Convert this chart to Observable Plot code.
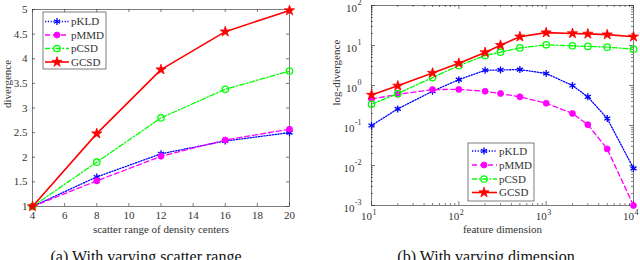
<!DOCTYPE html>
<html>
<head>
<meta charset="utf-8">
<script src="https://cdn.jsdelivr.net/npm/d3@7"></script>
<script src="https://cdn.jsdelivr.net/npm/@observablehq/plot@0.6"></script>
<style>
  body { margin: 0; background: #fff; }
  #wrap { position: relative; width: 640px; height: 260px; overflow: hidden; font-family: "Liberation Serif", serif; background: #fff; }
  .panel { position: absolute; top: 0; }
  .cap { position: absolute; top: 249px; font-family: "Liberation Serif", serif; font-size: 16px; line-height: 16px; white-space: nowrap; transform: translateX(-50%); color: #111; }
</style>
</head>
<body>
<div id="wrap">
  <div id="left" class="panel" style="left:0"></div>
  <div id="right" class="panel" style="left:320px"></div>
  <div class="cap" style="left:146px">(a) With varying scatter range</div>
  <div class="cap" style="left:486px">(b) With varying dimension</div>
</div>
<script>
// ---- data ----
const seriesNames = ["pKLD", "pMMD", "pCSD", "GCSD"];

const scatterRange = [4, 8, 12, 16, 20];
const scatterPKLD = [1, 1.6, 2.07, 2.33, 2.5];
const scatterPMMD = [1, 1.52, 2.02, 2.35, 2.57];
const scatterPCSD = [1, 1.9, 2.8, 3.38, 3.75];
const scatterGCSD = [1, 2.48, 3.78, 4.55, 4.98];

const featureDim = [10, 20, 50, 100, 200, 300, 500, 1000, 2000, 3000, 5000, 10000];
const dimPKLD = [0.1, 0.26, 0.72, 1.4, 2.4, 2.45, 2.5, 2.0, 1.0, 0.52, 0.15, 0.0085];
const dimPMMD = [0.46, 0.6, 0.79, 0.8, 0.72, 0.63, 0.52, 0.36, 0.2, 0.105, 0.026, 0.001];
const dimPCSD = [0.34, 0.63, 1.58, 3.16, 5.6, 6.8, 8.7, 10.4, 9.8, 9.5, 9.1, 8.1];
const dimGCSD = [0.58, 0.98, 2.05, 3.6, 6.7, 10.2, 16.6, 21, 20, 19.5, 18.7, 16.6];

const leftXTicks = [4, 6, 8, 10, 12, 14, 16, 18, 20];
const leftYTicks = [1, 1.5, 2, 2.5, 3, 3.5, 4, 4.5, 5];
const rightXTicks = [10, 100, 1000, 10000];
const rightYTicks = [0.001, 0.01, 0.1, 1, 10, 100];

// ---- styles ----
const styles = {
  pKLD: {color: "#0000ff", dash: "1.2,1.6", width: 1.3, symbol: "asterisk", r: 3.3, filled: false},
  pMMD: {color: "#ff00ff", dash: "5,3", width: 1.3, symbol: "circle", r: 3, filled: true},
  pCSD: {color: "#00ff00", dash: "5,2,1.5,2", width: 1.3, symbol: "circle", r: 3.2, filled: false},
  GCSD: {color: "#ff0000", dash: null, width: 1.6, symbol: "star", r: 3.2, filled: true}
};
const symbolMap = {asterisk: d3.symbolAsterisk, circle: d3.symbolCircle, star: d3.symbolStar};
const axisColor = "#262626";
const textColor = "#333";
const font = {fontFamily: "Liberation Serif", fontSize: "11px", background: "white", overflow: "visible"};

function seriesMarks(xs, values) {
  return seriesNames.flatMap((name, k) => {
    const rows = xs.map((x, i) => ({x, y: values[k][i]}));
    const s = styles[name];
    return [
      Plot.line(rows, {x: "x", y: "y", stroke: s.color, strokeWidth: s.width, strokeDasharray: s.dash}),
      Plot.dot(rows, {x: "x", y: "y", symbol: s.symbol, r: s.r,
        fill: s.filled ? s.color : "none", stroke: s.color, strokeWidth: s.filled ? 0.8 : 1.3})
    ];
  });
}

function inwardTicks(xt, yt, pw, ph, len) {
  const o = {stroke: axisColor, strokeWidth: 0.6};
  return [
    Plot.ruleX(xt, {x: d => d, insetTop: ph - len, ...o}),
    Plot.ruleX(xt, {x: d => d, insetBottom: ph - len, ...o}),
    Plot.ruleY(yt, {y: d => d, insetRight: pw - len, ...o}),
    Plot.ruleY(yt, {y: d => d, insetLeft: pw - len, ...o})
  ];
}

function drawLegend(svg, box, ys, lx0, lx1, mx, tx) {
  const g = d3.select(svg).append("g");
  g.append("rect").attr("x", box.x).attr("y", box.y).attr("width", box.w).attr("height", box.h)
    .attr("fill", "white").attr("stroke", axisColor).attr("stroke-width", 0.6);
  seriesNames.forEach((name, i) => {
    const s = styles[name], y = ys[i];
    g.append("line").attr("x1", lx0).attr("x2", lx1).attr("y1", y).attr("y2", y)
      .attr("stroke", s.color).attr("stroke-width", s.width).attr("stroke-dasharray", s.dash);
    g.append("path").attr("transform", `translate(${mx},${y})`)
      .attr("d", d3.symbol(symbolMap[s.symbol], s.r * s.r * Math.PI)())
      .attr("fill", s.filled ? s.color : "none").attr("stroke", s.color)
      .attr("stroke-width", s.filled ? 0.8 : 1.3);
    g.append("text").attr("x", tx).attr("y", y).attr("dy", "0.35em")
      .attr("text-anchor", "start")
      .attr("font-size", 11).attr("font-family", "Liberation Serif").attr("fill", textColor).text(name);
  });
}

// ---- left panel ----
{
  const ml = 32, mr = 31, mt = 9, mb = 54, W = 320, H = 260;
  const pw = W - ml - mr, ph = H - mt - mb;
  const svg = Plot.plot({
    width: W, height: H, marginLeft: ml, marginRight: mr, marginTop: mt, marginBottom: mb,
    x: {domain: [4, 20], axis: null},
    y: {domain: [1, 5], axis: null},
    style: font,
    marks: [
      Plot.frame({stroke: axisColor, strokeWidth: 0.6}),
      ...inwardTicks(leftXTicks, leftYTicks, pw, ph, 3),
      Plot.text(leftXTicks, {x: d => d, frameAnchor: "bottom", dy: 12, text: d => String(d), fill: textColor}),
      Plot.text(leftYTicks, {y: d => d, frameAnchor: "left", dx: -5, textAnchor: "end", text: d => String(d), fill: textColor}),
      Plot.text(["scatter range of density centers"], {frameAnchor: "bottom", dy: 26, text: d => d, fill: textColor}),
      Plot.text(["divergence"], {frameAnchor: "left", dx: -25, rotate: -90, text: d => d, fill: textColor}),
      ...seriesMarks(scatterRange, [scatterPKLD, scatterPMMD, scatterPCSD, scatterGCSD])
    ]
  });
  drawLegend(svg, {x: 43, y: 12, w: 63, h: 57}, [21.5, 35, 48.5, 62], 45, 69, 57, 71);
  document.getElementById("left").appendChild(svg);
}

// ---- right panel ----
{
  const ml = 51, mr = 7, mt = 5, mb = 55, W = 320, H = 260;
  const pw = W - ml - mr, ph = H - mt - mb;
  const mult = [2, 3, 4, 5, 6, 7, 8, 9];
  const xMinor = rightXTicks.slice(0, -1).flatMap(d => mult.map(m => d * m));
  const yMinor = rightYTicks.slice(0, -1).flatMap(d => mult.map(m => d * m));
  const svg = Plot.plot({
    width: W, height: H, marginLeft: ml, marginRight: mr, marginTop: mt, marginBottom: mb,
    x: {type: "log", domain: [10, 10000], axis: null},
    y: {type: "log", domain: [0.001, 100], axis: null},
    style: font,
    marks: [
      Plot.frame({stroke: axisColor, strokeWidth: 0.6}),
      ...inwardTicks(rightXTicks, rightYTicks, pw, ph, 4),
      ...inwardTicks(xMinor, yMinor, pw, ph, 2),
      Plot.text(rightXTicks, {x: d => d, frameAnchor: "bottom", dy: 14, dx: 0.5, textAnchor: "end", text: () => "10", fill: textColor}),
      Plot.text(rightXTicks, {x: d => d, frameAnchor: "bottom", dy: 9, dx: 1, textAnchor: "start", fontSize: 8, text: d => String(Math.round(Math.log10(d))), fill: textColor}),
      Plot.text(rightYTicks, {y: d => d, frameAnchor: "left", dx: -10, dy: -3, textAnchor: "end", fontSize: 8, text: d => String(Math.round(Math.log10(d))), fill: textColor}),
      Plot.text(rightYTicks.filter(d => d >= 1), {y: d => d, frameAnchor: "left", dx: -14.5, dy: 2.5, textAnchor: "end", text: () => "10", fill: textColor}),
      Plot.text(rightYTicks.filter(d => d < 1), {y: d => d, frameAnchor: "left", dx: -17, dy: 2.5, textAnchor: "end", text: () => "10", fill: textColor}),
      Plot.text(["feature dimension"], {frameAnchor: "bottom", dy: 27, text: d => d, fill: textColor}),
      Plot.text(["log-divergence"], {frameAnchor: "left", dx: -35, rotate: -90, text: d => d, fill: textColor}),
      ...seriesMarks(featureDim, [dimPKLD, dimPMMD, dimPCSD, dimGCSD])
    ]
  });
  drawLegend(svg, {x: 148, y: 143, w: 66, h: 58}, [151, 165, 179, 192.5], 152, 177, 164, 179);
  document.getElementById("right").appendChild(svg);
}
</script>
</body>
</html>
